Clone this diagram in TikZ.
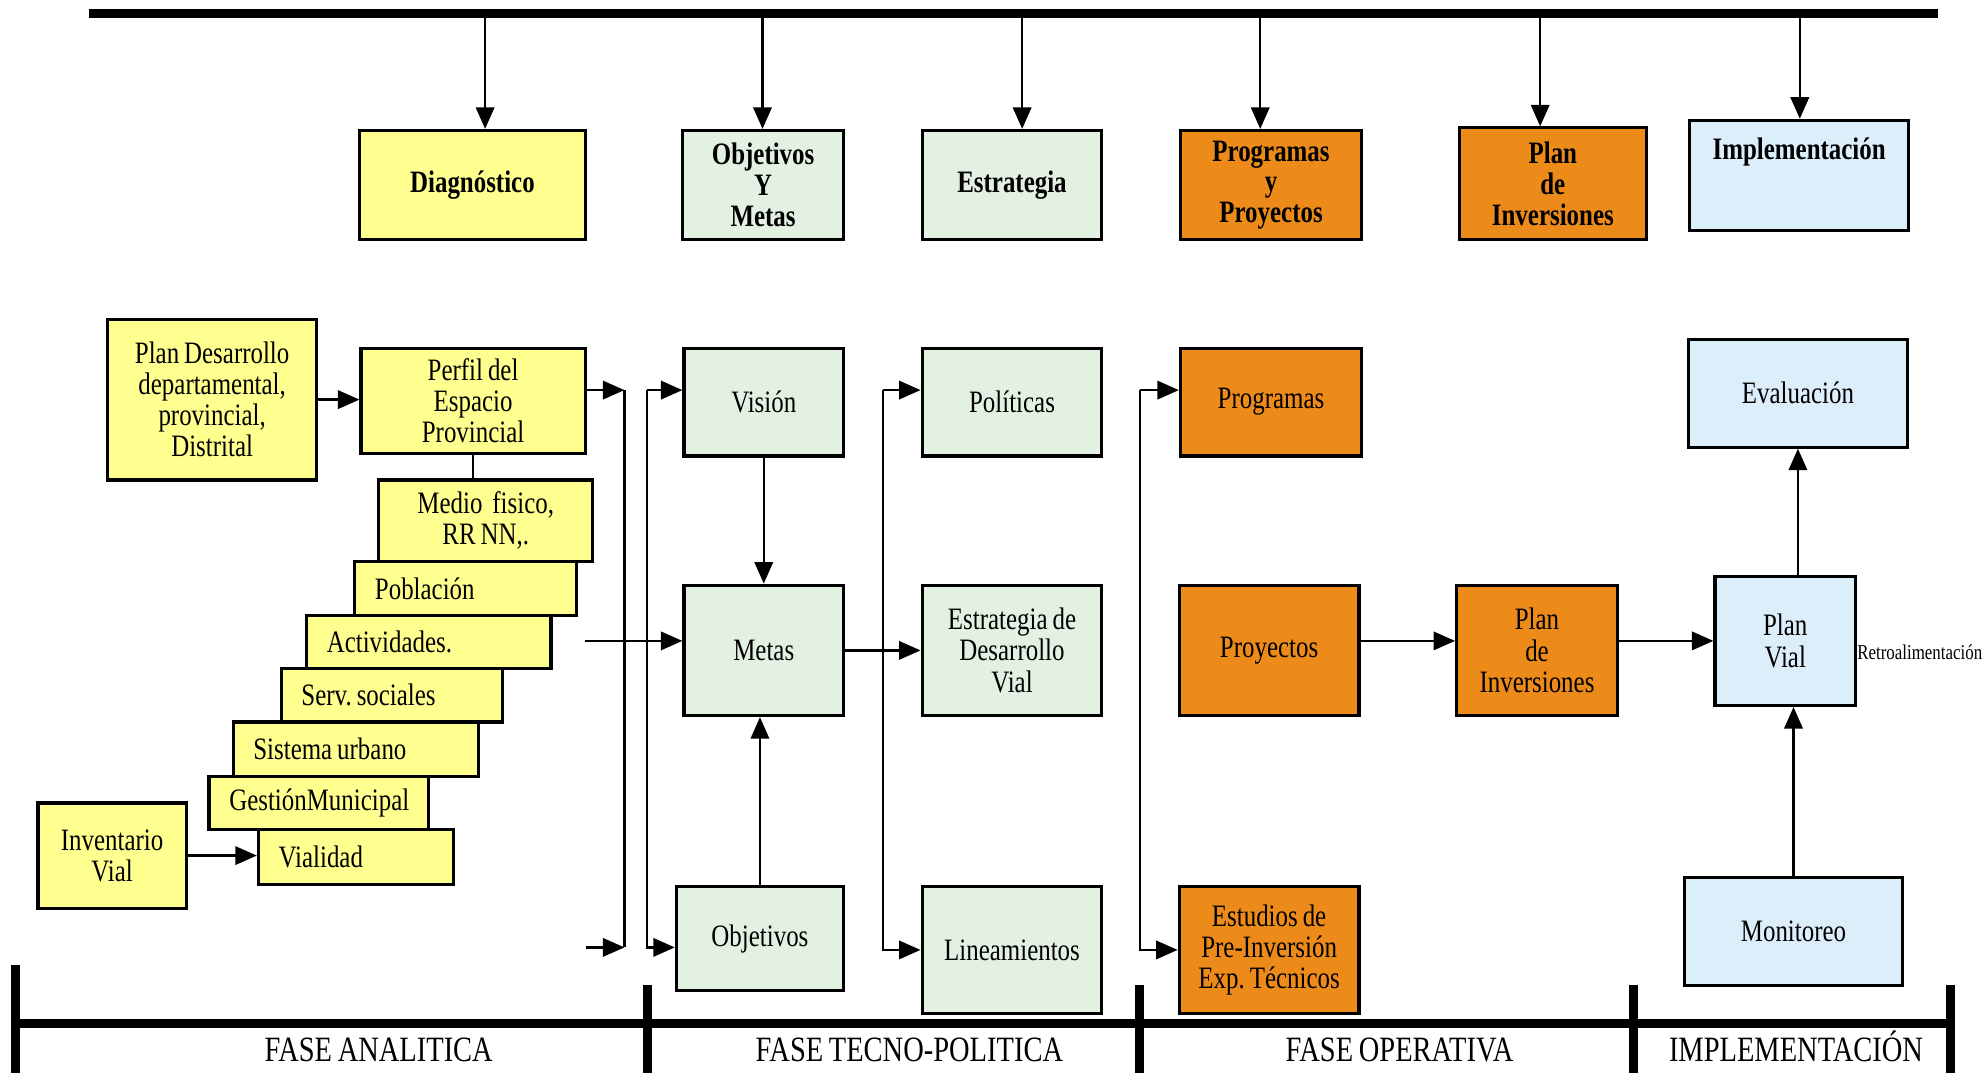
\documentclass[tikz,border=0pt]{standalone}
\usepackage{fontspec}
\setmainfont{Liberation Serif}[FakeStretch=0.8, WordSpace=0.8]
\usepackage{tikz}
\usetikzlibrary{arrows.meta, positioning, calc}
\frenchspacing

\definecolor{amarillo}{HTML}{FFFF8F}
\definecolor{verdeclaro}{HTML}{E2F1E2}
\definecolor{naranja}{HTML}{EC8A1A}
\definecolor{celeste}{HTML}{DCEEFA}

\tikzset{
  caja/.style={draw=black, line width=1.4pt, align=center, inner sep=2pt, font=\fontsize{14}{14}\selectfont},
  titulo/.style={caja, font=\fontsize{14}{13.8}\selectfont\bfseries},
  escalon/.style={caja, fill=amarillo, align=flush left, inner xsep=0.32cm, inner ysep=1pt},
  flecha/.style={line width=1.1pt, -{Triangle[length=0.34cm, width=0.29cm]}},
  linea/.style={line width=1.1pt},
  barra/.style={line width=4pt},
  fase/.style={font=\fontsize{16}{16}\selectfont, anchor=base}
}

\begin{document}
\begin{tikzpicture}[x=0.02cm, y=-0.02cm]
\useasboundingbox (0,0) rectangle (1568,847);

% Barra superior
\coordinate (sup1) at (70,11);
\coordinate (sup2) at (1530,11);
\draw[barra] (sup1) -- (sup2);

% Fila superior
\node[titulo, fill=amarillo, minimum width=3.56cm, minimum height=1.72cm] (diag) at (373,146) {Diagnóstico};
\node[titulo, fill=verdeclaro, minimum width=2.54cm, minimum height=1.72cm] (objmet) at (602.5,146) {Objetivos\\Y\\Metas};
\node[titulo, fill=verdeclaro, minimum width=2.84cm, minimum height=1.72cm] (estr) at (799,146) {Estrategia};
\node[titulo, fill=naranja, minimum width=2.86cm, minimum height=1.72cm] (progproy) at (1003.5,146) {Programas\\y\\Proyectos};
\node[titulo, fill=naranja, minimum width=2.96cm, minimum height=1.76cm] (planinv) at (1226,145) {Plan\\de\\Inversiones};
\node[titulo, fill=celeste, minimum width=3.46cm, minimum height=1.74cm] (impl) at (1420.5,138.5) {};
\node[titulo, draw=none, below=0.2cm of impl.north] (impltxt) {Implementación};

\foreach \x/\destino in {383/diag, 602/objmet, 807/estr, 995/progproy, 1216/planinv, 1421/impl}{
  \coordinate (bajada\x) at (\x,11);
  \draw[flecha] (bajada\x) -- (bajada\x |- \destino.north);
}

% Fase analitica
\node[caja, fill=amarillo, minimum width=3.30cm, minimum height=2.54cm] (plandes) at (167.5,315.5) {Plan Desarrollo\\departamental,\\provincial,\\Distrital};
\node[caja, fill=amarillo, minimum width=3.54cm, minimum height=1.66cm] (perfil) at (373.5,316.5) {Perfil del\\Espacio\\Provincial};
\node[caja, fill=amarillo, minimum width=3.38cm, minimum height=1.28cm] (medio) at (383.5,411) {Medio\ \ fisico,\\RR NN,.};
\node[escalon, text width=2.86cm, minimum height=0.86cm] (poblacion) at (367.5,464.5) {Población};
\node[escalon, text width=3.22cm, minimum height=0.84cm] (actividades) at (338.5,507) {Actividades.};
\node[escalon, text width=2.86cm, minimum height=0.84cm] (servicios) at (309.5,549) {Serv. sociales};
\node[escalon, text width=3.24cm, minimum height=0.86cm] (sistema) at (281,591.5) {Sistema urbano};
\node[escalon, text width=2.82cm, minimum height=0.84cm] (gestion) at (251.5,634) {GestiónMunicipal};
\node[escalon, text width=2.44cm, minimum height=0.86cm] (vialidad) at (281,676.5) {Vialidad};
\node[caja, fill=amarillo, minimum width=2.34cm, minimum height=1.66cm] (inventario) at (88.5,675.5) {Inventario\\Vial};

\draw[flecha] (plandes.east) -- (plandes.east -| perfil.west);
\draw[linea] (perfil.south) -- (perfil.south |- medio.north);
\draw[flecha] (inventario.east) -- (inventario.east -| vialidad.west);

% Fase tecno-politica
\node[caja, fill=verdeclaro, minimum width=2.52cm, minimum height=1.70cm] (vision) at (603,317.5) {Visión};
\node[caja, fill=verdeclaro, minimum width=2.52cm, minimum height=2.06cm] (metas) at (603,513.5) {Metas};
\node[caja, fill=verdeclaro, minimum width=2.64cm, minimum height=1.64cm] (objetivos) at (600,741) {Objetivos};
\node[caja, fill=verdeclaro, minimum width=2.84cm, minimum height=1.70cm] (politicas) at (799,317.5) {Políticas};
\node[caja, fill=verdeclaro, minimum width=2.84cm, minimum height=2.06cm] (estdes) at (799,513.5) {Estrategia de\\Desarrollo\\Vial};
\node[caja, fill=verdeclaro, minimum width=2.84cm, minimum height=2.00cm] (lineamientos) at (799,750) {Lineamientos};

\coordinate (ca1) at (493,308);
\coordinate (ca2) at (493,748);
\coordinate (ca0) at (463,748);
\draw[flecha] (perfil.east |- ca1) -- (ca1);
\draw[linea] (ca1) -- (ca2);
\draw[flecha] (ca0) -- (ca2);

\coordinate (cb1) at (511,308);
\coordinate (cb2) at (511,748);
\draw[flecha] (cb1) -- (cb1 -| vision.west);
\draw[flecha] (cb1) |- (cb2 -| objetivos.west);

\coordinate (entmetas) at (462,506);
\draw[flecha] (entmetas) -- (entmetas -| metas.west);
\draw[flecha] (vision) -- (metas);
\draw[flecha] (objetivos.north) -- (objetivos.north |- metas.south);
\draw[flecha] (metas.east) -- (metas.east -| estdes.west);

\coordinate (cc1) at (697,308);
\coordinate (cc2) at (697,750);
\draw[flecha] (cc1) -- (cc1 -| politicas.west);
\draw[flecha] (cc1) |- (cc2 -| lineamientos.west);

% Fase operativa
\node[caja, fill=naranja, minimum width=2.86cm, minimum height=1.70cm] (programas) at (1003.5,317.5) {Programas};
\node[caja, fill=naranja, minimum width=2.84cm, minimum height=2.06cm] (proyectos) at (1002,513.5) {Proyectos};
\node[caja, fill=naranja, minimum width=2.84cm, minimum height=2.00cm] (estudios) at (1002,750) {Estudios de\\Pre-Inversión\\Exp. Técnicos};
\node[caja, fill=naranja, minimum width=2.54cm, minimum height=2.06cm] (planinv2) at (1213.5,513.5) {Plan\\de\\Inversiones};

\coordinate (cd1) at (900,308);
\coordinate (cd2) at (900,750);
\draw[flecha] (cd1) -- (cd1 -| programas.west);
\draw[flecha] (cd1) |- (cd2 -| estudios.west);

% Implementacion
\node[caja, fill=celeste, minimum width=3.46cm, minimum height=1.70cm] (evaluacion) at (1419.5,310.5) {Evaluación};
\node[caja, fill=celeste, minimum width=2.22cm, minimum height=2.04cm] (planvial) at (1409.5,506) {Plan\\Vial};
\node[caja, fill=celeste, minimum width=3.44cm, minimum height=1.70cm] (monitoreo) at (1416,735.5) {Monitoreo};
\node[font=\fontsize{9.5}{9.5}\selectfont, anchor=base west, inner sep=0pt] (retro) at (1466,521) {Retroalimentación};

\draw[flecha] (proyectos.east |- planvial.west) -- (planinv2.west |- planvial.west);
\draw[flecha] (planinv2.east |- planvial.west) -- (planvial.west);
\draw[flecha] (evaluacion.south |- planvial.north) -- (evaluacion.south);
\draw[flecha] (monitoreo.north) -- (monitoreo.north |- planvial.south);

% Barra inferior y fases
\coordinate (inf1) at (12,808);
\coordinate (inf2) at (1540,808);
\draw[barra] (inf1) -- (inf2);
\draw[barra] (12,762) -- (12,847);
\foreach \x in {511,900,1290,1540}
  \draw[barra] (\x,778) -- (\x,847);

\node[fase] (fanalitica) at (299,838) {FASE ANALITICA};
\node[fase] (ftecno) at (718,838) {FASE TECNO-POLITICA};
\node[fase] (foperativa) at (1105,838) {FASE OPERATIVA};
\node[fase] (fimpl) at (1418,838) {IMPLEMENTACIÓN};
\end{tikzpicture}
\end{document}
